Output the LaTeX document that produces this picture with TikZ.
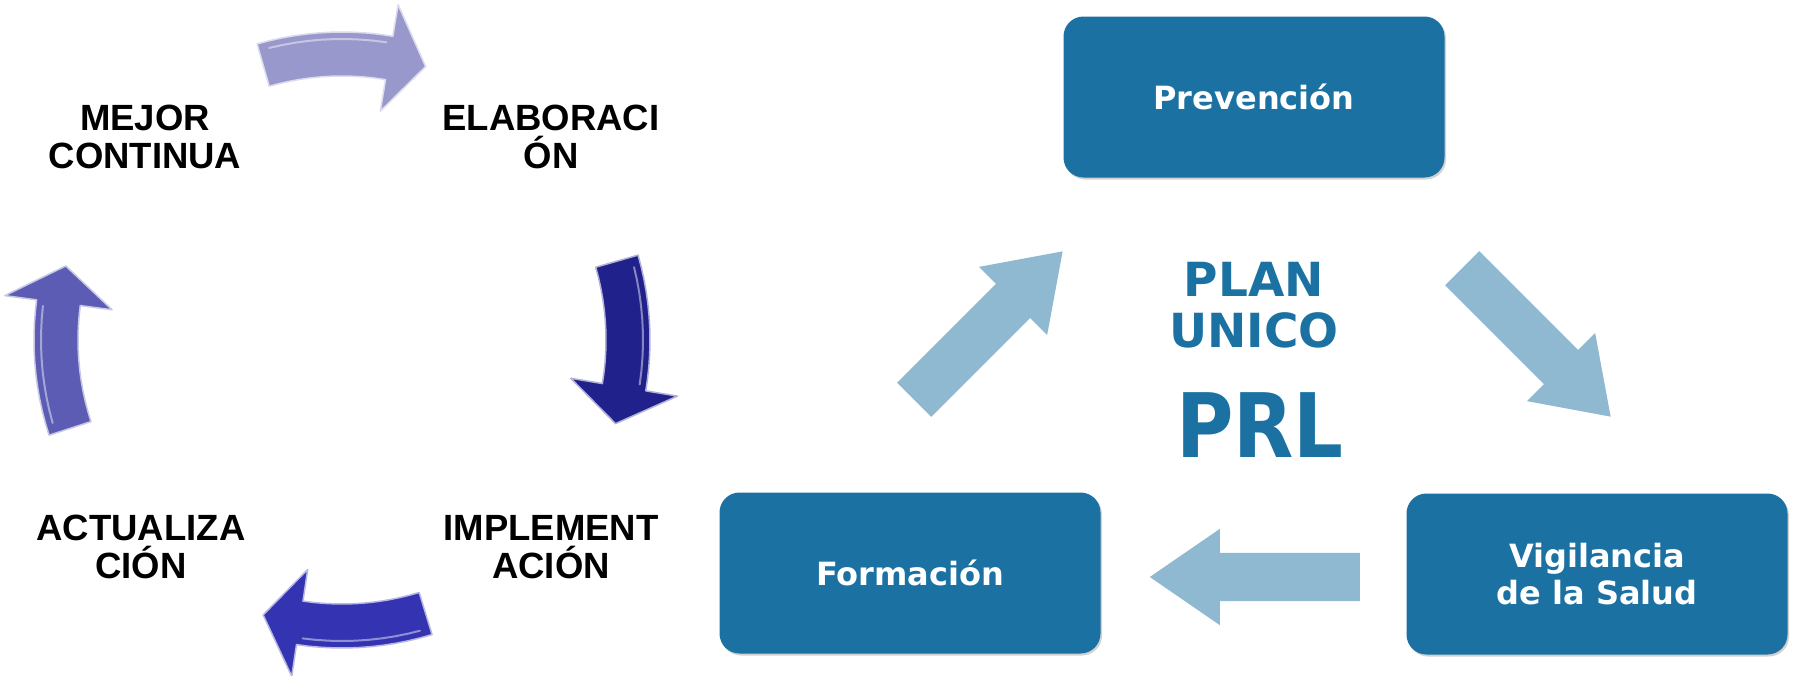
\documentclass[tikz,border=0pt]{standalone}
\usepackage{fontspec}
\setmainfont{Liberation Sans}
\newfontfamily\verdanafont{DejaVu Sans}
\usetikzlibrary{shapes.arrows,shadows}
\definecolor{prlblue}{RGB}{27,114,162}
\definecolor{prllight}{RGB}{143,184,209}
\definecolor{cycA}{RGB}{152,152,205}
\definecolor{cycB}{RGB}{33,33,140}
\definecolor{cycC}{RGB}{52,52,178}
\definecolor{cycD}{RGB}{92,92,180}
\newcommand\cajafont{\verdanafont\bfseries\fontsize{32}{37}\selectfont}
\tikzset{
  etapa/.style={font=\bfseries\fontsize{36.5}{38}\selectfont, align=center, inner sep=0pt},
  caja/.style={rectangle, rounded corners=20pt, fill=prlblue, text=white, minimum width=381pt, minimum height=161pt, align=center,
    font=\cajafont, drop shadow={shadow xshift=1.5pt, shadow yshift=-2pt, opacity=.35}},
  flecha/.style={single arrow, fill=prllight, minimum height=210pt, inner xsep=0pt, inner ysep=24pt,
    single arrow head extend=24pt, single arrow tip angle=69, anchor=tail}
}
\begin{document}
\begin{tikzpicture}[x=1pt,y=-1pt,line join=round]
  \useasboundingbox[fill=white] (0,0) rectangle (1796,675);
  % ciclo de la izquierda
  \def\rC{286} \def\wC{22} \def\hC{54} % radio, medio ancho, media punta
  \begin{scope}[shift={(342,340)}]
    \foreach \s/\col in {-106/cycA,-16/cycB,73/cycC,162/cycD}{
      \pgfmathsetmacro\hb{\s+25.5}
      \pgfmathsetmacro\tp{\s+33}
      \filldraw[fill=\col, draw=\col!35!white, line width=1.5pt]
        plot[domain=\s:\hb,samples=12] (\x:{\rC-\wC}) -- (\hb:{\rC-\hC}) -- (\tp:\rC)
        -- (\hb:{\rC+\hC}) -- plot[domain=\hb:\s,samples=12] (\x:{\rC+\wC}) -- cycle;
      \draw[white, opacity=.45, line width=2pt, line cap=round]
        plot[domain=\s+2:\hb-1,samples=10] (\x:{\rC+\wC-7}); % brillo
    }
  \end{scope}
  \node[etapa] (mejora) at (145,137) {MEJOR\\CONTINUA};
  \node[etapa] (elab) at (551,137) {ELABORACI\\ÓN};
  \node[etapa] (actu) at (141,547) {ACTUALIZA\\CIÓN};
  \node[etapa] (impl) at (551,547) {IMPLEMENT\\ACIÓN};
  % plan unico
  \node[caja] (prev) at (1254,97) {Prevención};
  \node[caja] (form) at (910,573) {Formación};
  \node[caja] (vigi) at (1597,574) {Vigilancia\\de la Salud};
  \node[text=prlblue, font=\verdanafont\bfseries\fontsize{47}{51}\selectfont, align=center] (plan) at (1254,305) {PLAN\\UNICO};
  \node[text=prlblue, font=\verdanafont\bfseries\fontsize{89}{89}\selectfont, xscale=.88] (prl) at (1260,425) {PRL};
  \node[flecha, rotate=45] (fl1) at (914,400) {};
  \node[flecha, rotate=-45] (fl2) at (1462,268) {};
  \node[flecha, rotate=180] (fl3) at (1360,577) {};
\end{tikzpicture}
\end{document}
